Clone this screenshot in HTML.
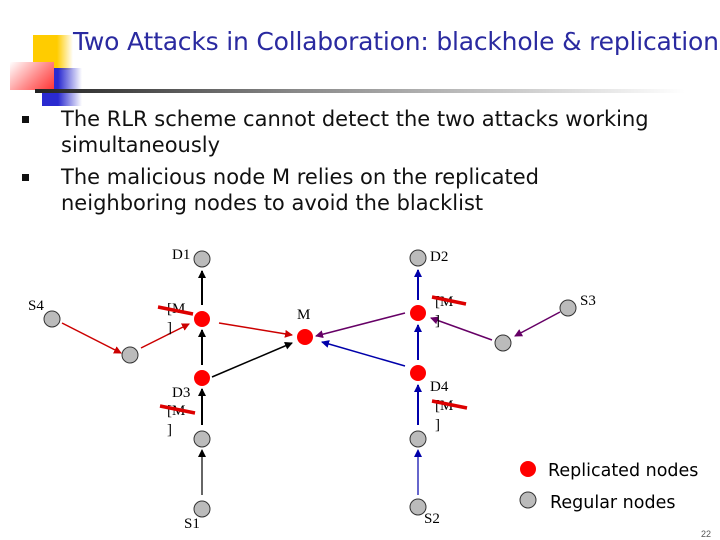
<!DOCTYPE html>
<html><head><style>
body{margin:0;width:720px;height:540px;background:#fff;overflow:hidden;position:relative;font-family:"DejaVu Sans","Liberation Sans",sans-serif}
.t{position:absolute;left:73px;top:27px;font-size:25px;color:#2a2aa0;white-space:nowrap;letter-spacing:-0.2px}
.b{position:absolute;font-size:21px;color:#111;line-height:26px}
</style></head><body>
<div style="position:absolute;left:33px;top:35px;width:40px;height:35px;background:linear-gradient(90deg,#ffcc00 60%,rgba(255,220,100,0))"></div>
<div style="position:absolute;left:42px;top:68px;width:40px;height:38px;background:linear-gradient(90deg,#2a2ad0 40%,rgba(60,60,220,0))"></div>
<div style="position:absolute;left:10px;top:62px;width:44px;height:28px;background:linear-gradient(135deg,#fff,#ff8080 60%,#f33)"></div>
<div style="position:absolute;left:35px;top:89px;width:650px;height:4px;background:linear-gradient(90deg,#222,#888 40%,#fff)"></div>
<div class="t">Two Attacks in Collaboration: blackhole &amp; replication</div>
<div style="position:absolute;left:22px;top:116px;width:7px;height:7px;background:#111"></div>
<div style="position:absolute;left:22px;top:174px;width:7px;height:7px;background:#111"></div>
<div class="b" style="left:61px;top:106px;white-space:nowrap">The RLR scheme cannot detect the two attacks working<br>simultaneously</div>
<div class="b" style="left:61px;top:164px;width:594px;text-align:justify;text-align-last:left">The malicious node M relies on the replicated<br>neighboring nodes to avoid the blacklist</div>
<div class="b" style="left:61px;top:164px;width:594px;"></div>
<svg width="720" height="540" style="position:absolute;left:0;top:0" font-family="Liberation Serif,serif" font-size="15">
<defs>
<marker id="r" markerWidth="8" markerHeight="8" refX="7" refY="4" orient="auto" markerUnits="userSpaceOnUse"><path d="M0,0L8,4L0,8z" fill="#c00"/></marker>
<marker id="k" markerWidth="8" markerHeight="8" refX="7" refY="4" orient="auto" markerUnits="userSpaceOnUse"><path d="M0,0L8,4L0,8z" fill="#000"/></marker>
<marker id="bl" markerWidth="8" markerHeight="8" refX="7" refY="4" orient="auto" markerUnits="userSpaceOnUse"><path d="M0,0L8,4L0,8z" fill="#00a"/></marker>
<marker id="p" markerWidth="8" markerHeight="8" refX="7" refY="4" orient="auto" markerUnits="userSpaceOnUse"><path d="M0,0L8,4L0,8z" fill="#606"/></marker>
</defs>
<g stroke-width="1.5">
<line x1="62" y1="323" x2="121" y2="353" stroke="#c00" marker-end="url(#r)"/>
<line x1="141" y1="348" x2="189" y2="324" stroke="#c00" marker-end="url(#r)"/>
<line x1="219" y1="323" x2="292" y2="335" stroke="#c00" marker-end="url(#r)"/>
<line x1="212" y1="377" x2="292" y2="343" stroke="#000" marker-end="url(#k)"/>
<line x1="202" y1="305" x2="202" y2="271" stroke="#000" stroke-width="2" marker-end="url(#k)"/>
<line x1="202" y1="365" x2="202" y2="330" stroke="#000" stroke-width="2" marker-end="url(#k)"/>
<line x1="202" y1="425" x2="202" y2="389" stroke="#000" stroke-width="2" marker-end="url(#k)"/>
<line x1="202" y1="495" x2="202" y2="450" stroke="#000" stroke-width="1.2" marker-end="url(#k)"/>
<line x1="418" y1="300" x2="418" y2="270" stroke="#00a" stroke-width="2" marker-end="url(#bl)"/>
<line x1="418" y1="360" x2="418" y2="325" stroke="#00a" stroke-width="2" marker-end="url(#bl)"/>
<line x1="418" y1="425" x2="418" y2="385" stroke="#00a" stroke-width="2" marker-end="url(#bl)"/>
<line x1="418" y1="495" x2="418" y2="450" stroke="#00a" stroke-width="1.2" marker-end="url(#bl)"/>
<line x1="405" y1="313" x2="316" y2="336" stroke="#606" marker-end="url(#p)"/>
<line x1="405" y1="366" x2="322" y2="342" stroke="#00a" marker-end="url(#bl)"/>
<line x1="492" y1="340" x2="431" y2="318" stroke="#606" marker-end="url(#p)"/>
<line x1="560" y1="312" x2="515" y2="336" stroke="#606" marker-end="url(#p)"/>
</g>
<g fill="#bbb" stroke="#333" stroke-width="1">
<circle cx="202" cy="259" r="8"/><circle cx="52" cy="319" r="8"/><circle cx="130" cy="355" r="8"/><circle cx="202" cy="439" r="8"/><circle cx="202" cy="509" r="8"/>
<circle cx="418" cy="258" r="8"/><circle cx="418" cy="439" r="8"/><circle cx="418" cy="507" r="8"/><circle cx="568" cy="308" r="8"/><circle cx="503" cy="343" r="8"/><circle cx="528" cy="500" r="8"/>
</g>
<g fill="#f00">
<circle cx="202" cy="319" r="8"/><circle cx="202" cy="378" r="8"/><circle cx="305" cy="337" r="8"/><circle cx="418" cy="313" r="8"/><circle cx="418" cy="373" r="8"/><circle cx="528" cy="469" r="8"/>
</g>
<g fill="#000">
<text x="172" y="259">D1</text><text x="430" y="261">D2</text><text x="28" y="310">S4</text><text x="580" y="305">S3</text>
<text x="297" y="319">M</text><text x="172" y="397">D3</text><text x="430" y="391">D4</text>
<text x="184" y="528">S1</text><text x="424" y="523">S2</text>
<text x="167" y="313">[M</text><text x="167" y="332">]</text>
<text x="435" y="306">[M</text><text x="435" y="325">]</text>
<text x="167" y="415">[M</text><text x="167" y="434">]</text>
<text x="435" y="410">[M</text><text x="435" y="429">]</text>
</g>
<g stroke="#d00" stroke-width="3.5">
<line x1="158" y1="307" x2="193" y2="314"/><line x1="432" y1="297" x2="466" y2="304"/>
<line x1="160" y1="406" x2="195" y2="413"/><line x1="432" y1="401" x2="467" y2="408"/>
</g>
<text x="548" y="476" font-family="DejaVu Sans,sans-serif" font-size="17.5">Replicated nodes</text>
<text x="550" y="508" font-family="DejaVu Sans,sans-serif" font-size="17.5">Regular nodes</text>
<text x="701" y="537" font-family="Liberation Sans,sans-serif" font-size="9" fill="#555">22</text>
</svg>
</body></html>
